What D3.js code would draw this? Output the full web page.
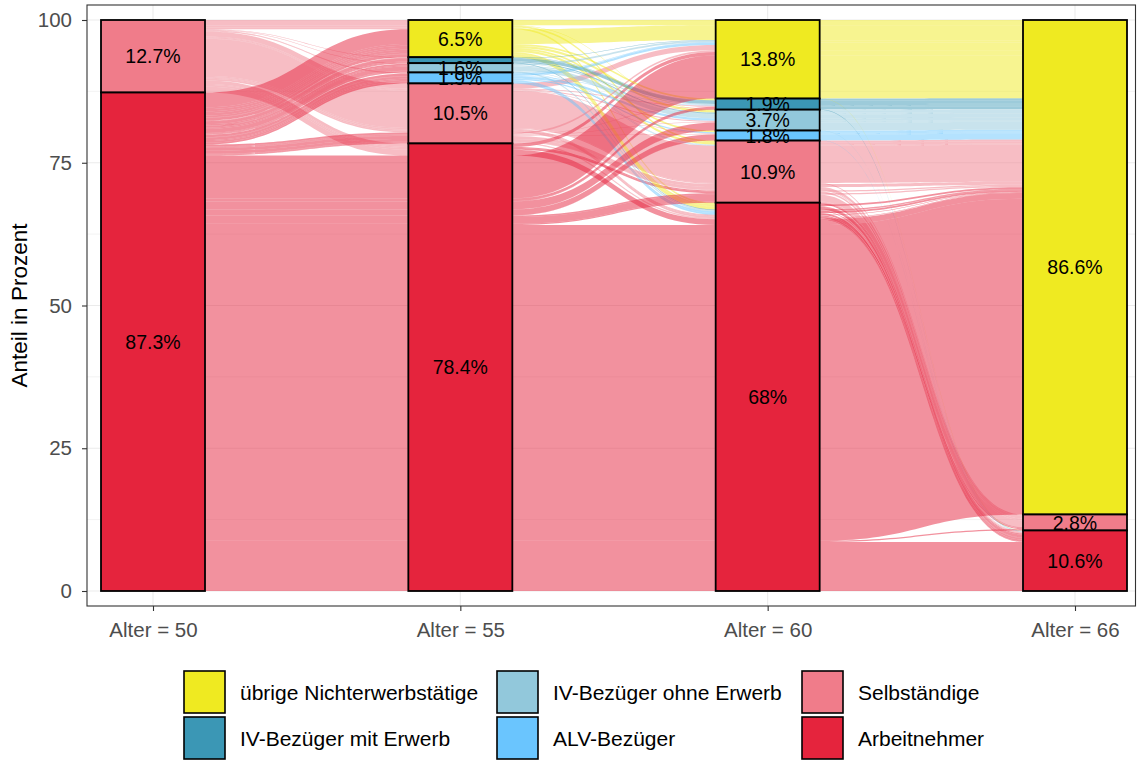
<!DOCTYPE html>
<html>
<meta charset="utf-8">
<style>
body {
  margin: 0;
  background: #fff;
}
svg text {
  font-family: 'Liberation Sans', Arial, sans-serif;
}
.grid line {
  stroke: #EBEBEB;
}
.grid line.minor {
  stroke-width: 0.6;
}
.grid line.major {
  stroke-width: 1.1;
}
.tick-label {
  font-size: 20.5px;
  fill: #4D4D4D;
}
.stratum {
  stroke: #000;
  stroke-width: 1.8;
}
.value {
  font-size: 19.5px;
  fill: #000;
}
.legend text {
  font-size: 21px;
  fill: #000;
}
</style>
<body>
<svg width="1137" height="760"></svg>
<script src="https://cdn.jsdelivr.net/npm/d3@7"></script>
<script>

var ages = ["Alter = 50", "Alter = 55", "Alter = 60", "Alter = 66"];
var codes = ["Y", "M", "O", "L", "S", "A"];
var states = ["übrige Nichterwerbstätige", "IV-Bezüger mit Erwerb", "IV-Bezüger ohne Erwerb",
              "ALV-Bezüger", "Selbständige", "Arbeitnehmer"];
var colors = ["#EFEA21", "#3B97B5", "#92C8DB", "#6AC5FE", "#F07C8A", "#E5243D"];
var yTicks = [0, 25, 50, 75, 100];
var yMinor = [12.5, 37.5, 62.5, 87.5];

// one row per trajectory: state at 50, 55, 60, 66, share in percent
var alluvia = [
  ["S","Y","Y","Y",0.9], ["S","Y","O","Y",0.1], ["S","Y","S","Y",0.3], ["S","Y","A","S",0.1],
  ["S","Y","A","A",0.2], ["S","M","M","Y",0.1], ["S","O","O","Y",0.1], ["S","L","Y","Y",0.1],
  ["S","L","S","Y",0.1], ["S","S","Y","Y",0.9], ["S","S","M","Y",0.1], ["S","S","O","Y",0.2],
  ["S","S","L","Y",0.1], ["S","S","S","S",0.2], ["S","S","S","Y",6.5], ["S","S","A","A",0.3],
  ["S","S","A","S",0.2], ["S","S","A","Y",0.1], ["S","A","Y","Y",0.6], ["S","A","S","S",0.3],
  ["S","A","S","Y",0.2], ["S","A","A","Y",1.0],
  ["A","Y","Y","Y",2.6], ["A","Y","M","Y",0.3], ["A","Y","O","Y",0.4], ["A","Y","L","Y",0.3],
  ["A","Y","S","Y",0.42], ["A","Y","A","Y",0.3], ["A","Y","A","S",0.1], ["A","Y","A","A",0.5],
  ["A","M","Y","Y",0.1], ["A","M","M","Y",0.54], ["A","M","O","Y",0.2], ["A","M","A","Y",0.1],
  ["A","O","Y","Y",0.3], ["A","O","M","Y",0.2], ["A","O","O","Y",0.73], ["A","O","S","Y",0.1],
  ["A","O","A","Y",0.1], ["A","O","A","A",0.1],
  ["A","L","Y","Y",0.4], ["A","L","M","Y",0.1], ["A","L","O","Y",0.42], ["A","L","L","Y",0.2],
  ["A","L","A","Y",0.3], ["A","L","A","A",0.3],
  ["A","S","Y","Y",0.3], ["A","S","M","Y",0.1], ["A","S","O","Y",0.1], ["A","S","L","Y",0.1],
  ["A","S","S","S",0.5], ["A","S","S","A",0.1], ["A","S","S","Y",0.51], ["A","S","A","A",0.1],
  ["A","S","A","Y",0.1],
  ["A","A","Y","Y",7.51], ["A","A","Y","A",0.05], ["A","A","M","Y",0.45], ["A","A","M","A",0.05],
  ["A","A","O","Y",1.36], ["A","A","O","A",0.05], ["A","A","L","Y",1.01], ["A","A","L","A",0.05],
  ["A","A","S","S",1.2], ["A","A","S","A",0.2], ["A","A","S","Y",0.25], ["A","A","A","Y",55.3],
  ["A","A","A","S",0.2], ["A","A","A","A",8.6]
];

var svg = d3.select("svg");
var panel = {left: 87, right: 1135.5, top: 5, bottom: 606};
var barW = 104;

var x = d3.scalePoint().domain(ages).range([153, 1075]);
var y = d3.scaleLinear().domain([0, 100]).range([591, 20]);
var color = d3.scaleOrdinal().domain(codes).range(colors);
var rank = function(c) { return codes.indexOf(c); };

// grid
var grid = svg.append("g").attr("class", "grid");
grid.selectAll(null).data(yMinor).enter().append("line").attr("class", "minor")
  .attr("x1", panel.left).attr("x2", panel.right)
  .attr("y1", function(d) { return y(d); }).attr("y2", function(d) { return y(d); });
grid.selectAll(null).data(yTicks).enter().append("line").attr("class", "major")
  .attr("x1", panel.left).attr("x2", panel.right)
  .attr("y1", function(d) { return y(d); }).attr("y2", function(d) { return y(d); });
grid.selectAll(null).data(ages).enter().append("line").attr("class", "major")
  .attr("y1", panel.top).attr("y2", panel.bottom)
  .attr("x1", function(d) { return x(d); }).attr("x2", function(d) { return x(d); });

// lode positions: sort within axis by own stratum, then back axes, then front axes
var total = d3.sum(alluvia, function(d) { return d[4]; });
var lodes = alluvia.map(function() { return []; });
ages.forEach(function(a, i) {
  var order = [i];
  for (var j = i - 1; j >= 0; j--) order.push(j);
  for (var j = i + 1; j < ages.length; j++) order.push(j);
  var idx = d3.range(alluvia.length).sort(function(p, q) {
    for (var k = 0; k < order.length; k++) {
      var d = rank(alluvia[p][order[k]]) - rank(alluvia[q][order[k]]);
      if (d) return d;
    }
    return p - q;
  });
  var top = total;
  idx.forEach(function(p) {
    lodes[p][i] = [top, top - alluvia[p][4]];
    top -= alluvia[p][4];
  });
});

// flows
var segs = [];
alluvia.forEach(function(d, p) {
  for (var i = 0; i < ages.length - 1; i++) {
    segs.push({from: d[i], i: i, a: lodes[p][i], b: lodes[p][i + 1]});
  }
});

function flowPath(s) {
  var x0 = x(ages[s.i]) + barW / 2, x1 = x(ages[s.i + 1]) - barW / 2, xm = (x0 + x1) / 2;
  var t0 = y(s.a[0]), b0 = y(s.a[1]), t1 = y(s.b[0]), b1 = y(s.b[1]);
  return "M" + x0 + "," + t0 + "C" + xm + "," + t0 + " " + xm + "," + t1 + " " + x1 + "," + t1 +
    "L" + x1 + "," + b1 + "C" + xm + "," + b1 + " " + xm + "," + b0 + " " + x0 + "," + b0 + "Z";
}

svg.append("g").selectAll("path").data(segs).enter().append("path")
  .attr("d", flowPath)
  .attr("fill", function(s) { return color(s.from); })
  .attr("fill-opacity", 0.5);

// strata
var strata = [];
ages.forEach(function(a, i) {
  var top = total;
  codes.forEach(function(c) {
    var v = d3.sum(alluvia, function(d) { return d[i] === c ? d[4] : 0; });
    if (v > 0) {
      strata.push({age: a, code: c, top: top, bottom: top - v, value: v});
      top -= v;
    }
  });
});

svg.append("g").selectAll("rect").data(strata).enter().append("rect")
  .attr("class", "stratum")
  .attr("x", function(d) { return x(d.age) - barW / 2; })
  .attr("width", barW)
  .attr("y", function(d) { return y(d.top); })
  .attr("height", function(d) { return y(d.bottom) - y(d.top); })
  .attr("fill", function(d) { return color(d.code); });

svg.append("g").selectAll("text").data(strata.filter(function(d) { return d.value >= 1.5; }))
  .enter().append("text")
  .attr("class", "value")
  .attr("x", function(d) { return x(d.age); })
  .attr("y", function(d) { return y((d.top + d.bottom) / 2); })
  .attr("dy", "0.36em")
  .attr("text-anchor", "middle")
  .text(function(d) { return +d.value.toFixed(1) + "%"; });

// panel border and axes
svg.append("rect")
  .attr("x", panel.left).attr("y", panel.top)
  .attr("width", panel.right - panel.left).attr("height", panel.bottom - panel.top)
  .attr("fill", "none").attr("stroke", "#333").attr("stroke-width", 1.1);

var yAxis = svg.append("g").attr("transform", "translate(" + panel.left + ",0)")
  .call(d3.axisLeft(y).tickValues(yTicks).tickSize(5).tickPadding(10));
yAxis.select(".domain").remove();
yAxis.selectAll(".tick line").attr("stroke", "#333").attr("stroke-width", 1.1);
yAxis.selectAll(".tick text").attr("class", "tick-label").attr("fill", null).attr("font-size", null).attr("font-family", null);

var xAxis = svg.append("g").attr("transform", "translate(0," + panel.bottom + ")")
  .call(d3.axisBottom(x).tickSize(5).tickPadding(11));
xAxis.select(".domain").remove();
xAxis.selectAll(".tick line").attr("stroke", "#333").attr("stroke-width", 1.1);
xAxis.selectAll(".tick text").attr("class", "tick-label").attr("fill", null).attr("font-size", null).attr("font-family", null);

svg.append("text")
  .attr("transform", "translate(27," + ((panel.top + panel.bottom) / 2) + ") rotate(-90)")
  .attr("text-anchor", "middle")
  .attr("font-size", "22.5px")
  .text("Anteil in Prozent");

// legend, filled column by column
var legend = svg.append("g").attr("class", "legend");
var colX = [184, 497, 802];
var rowY = [671, 717];
var items = legend.selectAll("g").data(codes).enter().append("g")
  .attr("transform", function(d, i) {
    return "translate(" + colX[Math.floor(i / 2)] + "," + rowY[i % 2] + ")";
  });
items.append("rect")
  .attr("width", 41).attr("height", 42)
  .attr("fill", function(d) { return color(d); })
  .attr("stroke", "#000").attr("stroke-width", 1.6);
items.append("text")
  .attr("x", 56).attr("y", 21).attr("dy", "0.36em")
  .text(function(d, i) { return states[i]; });

</script>
</body>
</html>
